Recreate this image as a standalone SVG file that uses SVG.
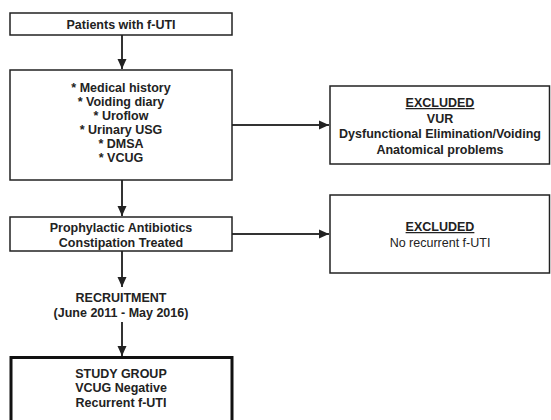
<svg xmlns="http://www.w3.org/2000/svg" width="551" height="420" viewBox="0 0 551 420">
<style>
.box{fill:#fff;stroke:#222;stroke-width:1.5}
.thick{fill:#fff;stroke:#111;stroke-width:3}
text{font-family:"Liberation Sans",Arial,sans-serif;font-size:12.5px;font-weight:bold;fill:#222;text-anchor:middle}
.u{text-decoration:underline}
.c{stroke:#333;stroke-width:2;fill:none}
</style>
<defs>
<marker id="ah" markerWidth="10" markerHeight="10" refX="10" refY="5" orient="auto" markerUnits="userSpaceOnUse">
<path d="M0,0.5 L10,5 L0,9.5 Z" fill="#222"/>
</marker>
</defs>
<rect width="551" height="420" fill="#fff"/>
<g id="connectors">
<line class="c" x1="122" y1="35" x2="122" y2="69" marker-end="url(#ah)"/>
<line class="c" x1="122" y1="180" x2="122" y2="216" marker-end="url(#ah)"/>
<line class="c" x1="122" y1="251" x2="122" y2="287" marker-end="url(#ah)"/>
<line class="c" x1="122" y1="322" x2="122" y2="356" marker-end="url(#ah)"/>
<line class="c" x1="232" y1="125" x2="329" y2="125" marker-end="url(#ah)"/>
<line class="c" x1="232" y1="234" x2="329" y2="234" marker-end="url(#ah)"/>
</g>
<g id="patients">
<rect class="box" x="10" y="13" width="222" height="22"/>
<text x="121" y="28.5">Patients with f-UTI</text>
</g>
<g id="workup">
<rect class="box" x="10" y="70" width="222" height="110"/>
<text x="121" y="92">* Medical history</text>
<text x="121" y="106">* Voiding diary</text>
<text x="121" y="120">* Uroflow</text>
<text x="121" y="134">* Urinary USG</text>
<text x="121" y="148">* DMSA</text>
<text x="121" y="162">* VCUG</text>
</g>
<g id="treatment">
<rect class="box" x="10" y="217" width="222" height="34"/>
<text x="121" y="231.5">Prophylactic Antibiotics</text>
<text x="121" y="247">Constipation Treated</text>
</g>
<g id="recruitment">
<text x="121" y="302">RECRUITMENT</text>
<text x="121" y="316.5">(June 2011 - May 2016)</text>
</g>
<g id="study">
<rect class="thick" x="11" y="357.5" width="221" height="70"/>
<text x="121" y="377.5">STUDY GROUP</text>
<text x="121" y="392">VCUG Negative</text>
<text x="121" y="406.5">Recurrent f-UTI</text>
</g>
<g id="excluded1">
<rect class="box" x="330" y="86" width="219.5" height="78"/>
<text class="u" x="440" y="107">EXCLUDED</text>
<text x="440" y="122.5">VUR</text>
<text x="440" y="138">Dysfunctional Elimination/Voiding</text>
<text x="440" y="153.5">Anatomical problems</text>
</g>
<g id="excluded2">
<rect class="box" x="330" y="195" width="219.5" height="78"/>
<text class="u" x="440" y="231">EXCLUDED</text>
<text x="440" y="247" style="font-weight:normal">No recurrent f-UTI</text>
</g>
</svg>
